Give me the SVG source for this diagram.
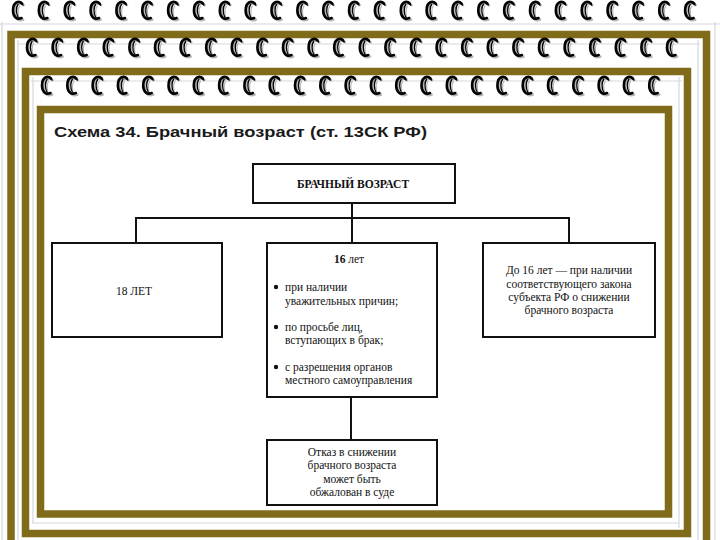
<svg xmlns="http://www.w3.org/2000/svg" xmlns:xlink="http://www.w3.org/1999/xlink" width="720" height="540" viewBox="0 0 720 540">
<style>
.frame{fill:#ffffff;stroke:#7f6b1a;stroke-width:7.5}
.edge{fill:none;stroke:#d4d8de;stroke-width:1.2}
.box{fill:#ffffff;stroke:#111111;stroke-width:2}
.conn{fill:none;stroke:#111111;stroke-width:2}
.t{font-family:"Liberation Serif","Times New Roman",serif;font-size:11.5px;fill:#111111}
.c{text-anchor:middle}
.title{font-family:"Liberation Sans",Arial,sans-serif;font-size:14px;font-weight:bold;fill:#1a1a1a}
</style>
<defs>
<g id="ring">
<g transform="translate(1.6,1.6)" stroke="#b5b5b5" fill="none" stroke-linecap="round">
<path d="M4,2.5 C1,-0.5 -5,0.5 -5,9.5 C-5,16 -1,19 3.5,17" stroke-width="2.6"/>
<path d="M0,3.5 C-2,6 -2,13 0,16" stroke-width="1.3"/>
</g>
<g stroke="#000000" fill="none" stroke-linecap="round">
<path d="M4,2.5 C1,-0.5 -5,0.5 -5,9.5 C-5,16 -1,19 3.5,17" stroke-width="2.6"/>
<path d="M0,3.5 C-2,6 -2,13 0,16" stroke-width="1.3"/>
<path d="M2.5,1 L5,4" stroke-width="1.4"/>
</g>
</g>
</defs>
<rect width="720" height="540" fill="#ffffff"/>
<line class="edge" x1="2" y1="22" x2="2" y2="540"/>
<line class="edge" x1="715" y1="22" x2="715" y2="540"/>
<line class="edge" x1="0" y1="24" x2="720" y2="24"/>

<g id="frame1">
<rect class="frame" x="11" y="34.5" width="695.5" height="520"/>
<line class="edge" x1="17" y1="44" x2="700" y2="44"/>
<line class="edge" x1="698" y1="40" x2="698" y2="540"/>
<line class="edge" x1="18" y1="40" x2="18" y2="540"/>
</g>
<g id="rings1">
<use xlink:href="#ring" x="18" y="1"/><use xlink:href="#ring" x="43.85" y="1"/><use xlink:href="#ring" x="69.7" y="1"/><use xlink:href="#ring" x="95.55" y="1"/><use xlink:href="#ring" x="121.4" y="1"/><use xlink:href="#ring" x="147.25" y="1"/><use xlink:href="#ring" x="173.1" y="1"/><use xlink:href="#ring" x="198.95" y="1"/><use xlink:href="#ring" x="224.8" y="1"/><use xlink:href="#ring" x="250.65" y="1"/><use xlink:href="#ring" x="276.5" y="1"/><use xlink:href="#ring" x="302.35" y="1"/><use xlink:href="#ring" x="328.2" y="1"/><use xlink:href="#ring" x="354.05" y="1"/><use xlink:href="#ring" x="379.9" y="1"/><use xlink:href="#ring" x="405.75" y="1"/><use xlink:href="#ring" x="431.6" y="1"/><use xlink:href="#ring" x="457.45" y="1"/><use xlink:href="#ring" x="483.3" y="1"/><use xlink:href="#ring" x="509.15" y="1"/><use xlink:href="#ring" x="535" y="1"/><use xlink:href="#ring" x="560.85" y="1"/><use xlink:href="#ring" x="586.7" y="1"/><use xlink:href="#ring" x="612.55" y="1"/><use xlink:href="#ring" x="638.4" y="1"/><use xlink:href="#ring" x="664.25" y="1"/><use xlink:href="#ring" x="690.1" y="1"/>
</g>

<g id="frame2">
<rect class="frame" x="25.5" y="71.5" width="662" height="462"/>
<line class="edge" x1="31" y1="81" x2="682" y2="81"/>
<line class="edge" x1="679" y1="77" x2="679" y2="528"/>
<line class="edge" x1="32" y1="523" x2="679" y2="523"/>
<line class="edge" x1="33" y1="77" x2="33" y2="523"/>
</g>
<g id="rings2">
<use xlink:href="#ring" x="32" y="38"/><use xlink:href="#ring" x="57.6" y="38"/><use xlink:href="#ring" x="83.2" y="38"/><use xlink:href="#ring" x="108.8" y="38"/><use xlink:href="#ring" x="134.4" y="38"/><use xlink:href="#ring" x="160" y="38"/><use xlink:href="#ring" x="185.6" y="38"/><use xlink:href="#ring" x="211.2" y="38"/><use xlink:href="#ring" x="236.8" y="38"/><use xlink:href="#ring" x="262.4" y="38"/><use xlink:href="#ring" x="288" y="38"/><use xlink:href="#ring" x="313.6" y="38"/><use xlink:href="#ring" x="339.2" y="38"/><use xlink:href="#ring" x="364.8" y="38"/><use xlink:href="#ring" x="390.4" y="38"/><use xlink:href="#ring" x="416" y="38"/><use xlink:href="#ring" x="441.6" y="38"/><use xlink:href="#ring" x="467.2" y="38"/><use xlink:href="#ring" x="492.8" y="38"/><use xlink:href="#ring" x="518.4" y="38"/><use xlink:href="#ring" x="544" y="38"/><use xlink:href="#ring" x="569.6" y="38"/><use xlink:href="#ring" x="595.2" y="38"/><use xlink:href="#ring" x="620.8" y="38"/><use xlink:href="#ring" x="646.4" y="38"/><use xlink:href="#ring" x="672" y="38"/>
</g>

<g id="frame3">
<rect class="frame" x="40.5" y="109.5" width="628" height="404.5"/>
</g>
<g id="rings3">
<use xlink:href="#ring" x="47" y="76"/><use xlink:href="#ring" x="72.3" y="76"/><use xlink:href="#ring" x="97.6" y="76"/><use xlink:href="#ring" x="122.9" y="76"/><use xlink:href="#ring" x="148.2" y="76"/><use xlink:href="#ring" x="173.5" y="76"/><use xlink:href="#ring" x="198.8" y="76"/><use xlink:href="#ring" x="224.1" y="76"/><use xlink:href="#ring" x="249.4" y="76"/><use xlink:href="#ring" x="274.7" y="76"/><use xlink:href="#ring" x="300" y="76"/><use xlink:href="#ring" x="325.3" y="76"/><use xlink:href="#ring" x="350.6" y="76"/><use xlink:href="#ring" x="375.9" y="76"/><use xlink:href="#ring" x="401.2" y="76"/><use xlink:href="#ring" x="426.5" y="76"/><use xlink:href="#ring" x="451.8" y="76"/><use xlink:href="#ring" x="477.1" y="76"/><use xlink:href="#ring" x="502.4" y="76"/><use xlink:href="#ring" x="527.7" y="76"/><use xlink:href="#ring" x="553" y="76"/><use xlink:href="#ring" x="578.3" y="76"/><use xlink:href="#ring" x="603.6" y="76"/><use xlink:href="#ring" x="628.9" y="76"/><use xlink:href="#ring" x="654.2" y="76"/>
</g>

<text class="title" x="54" y="137" textLength="373" lengthAdjust="spacingAndGlyphs">Схема 34. Брачный возраст (ст. 13СК РФ)</text>

<g id="connectors">
<line class="conn" x1="352" y1="203" x2="352" y2="243"/>
<polyline class="conn" points="136,243 136,218 569,218 569,243"/>
<line class="conn" x1="351" y1="397" x2="351" y2="440"/>
</g>

<g id="n-root">
<rect class="box" x="253" y="164" width="202" height="39"/>
<text class="t c" x="353" y="188" font-weight="bold" font-size="11">БРАЧНЫЙ ВОЗРАСТ</text>
</g>

<g id="n-18">
<rect class="box" x="52" y="243" width="170" height="94"/>
<text class="t c" x="134" y="295">18 ЛЕТ</text>
</g>

<g id="n-16">
<rect class="box" x="267" y="243" width="170" height="154"/>
<text class="t c" x="349" y="263"><tspan font-weight="bold">16</tspan> лет</text>
<circle cx="276" cy="287" r="2.2" fill="#111"/>
<text class="t" x="285" y="291">при наличии</text>
<text class="t" x="285" y="305">уважительных причин;</text>
<circle cx="276" cy="327" r="2.2" fill="#111"/>
<text class="t" x="285" y="331">по просьбе лиц,</text>
<text class="t" x="285" y="344">вступающих в брак;</text>
<circle cx="276" cy="367" r="2.2" fill="#111"/>
<text class="t" x="285" y="371">с разрешения органов</text>
<text class="t" x="285" y="384">местного самоуправления</text>
</g>

<g id="n-under16">
<rect class="box" x="483" y="243" width="172" height="94"/>
<text class="t c" x="569" y="274">До 16 лет — при наличии</text>
<text class="t c" x="569" y="288">соответствующего закона</text>
<text class="t c" x="569" y="301">субъекта РФ о снижении</text>
<text class="t c" x="569" y="314">брачного возраста</text>
</g>

<g id="n-appeal">
<rect class="box" x="267" y="440" width="170" height="65"/>
<text class="t c" x="352" y="456">Отказ в снижении</text>
<text class="t c" x="352" y="469">брачного возраста</text>
<text class="t c" x="352" y="483">может быть</text>
<text class="t c" x="352" y="496">обжалован в суде</text>
</g>
</svg>
